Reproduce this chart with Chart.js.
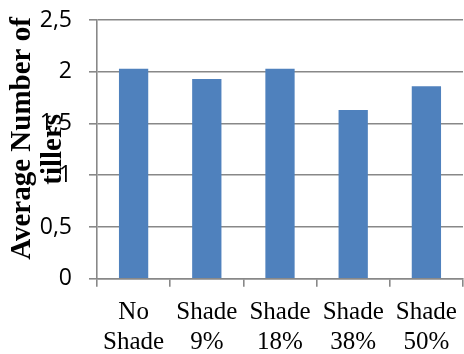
<!DOCTYPE html>
<html>
<head>
<meta charset="utf-8">
<script src="https://cdn.jsdelivr.net/npm/chart.js@4/dist/chart.umd.min.js"></script>
<style>
  html, body { margin: 0; padding: 0; background: #fff; }
  #wrap { width: 464px; height: 354px; }
</style>
</head>
<body>
<div id="wrap"><canvas id="c" width="464" height="354"></canvas></div>
<script>
// Shade treatments (two-line axis labels) and mean tiller counts
const categories = [['No', 'Shade'], ['Shade', '9%'], ['Shade', '18%'], ['Shade', '38%'], ['Shade', '50%']];
const tillers = [2.03, 1.93, 2.03, 1.63, 1.86];
// leading spaces lift the first title line a little towards the top of the axis
const yAxisTitle = ['   Average Number of', 'tillers'];
const yMin = 0, yMax = 2.5, yStep = 0.5;

const gridColor = '#888888';

new Chart(document.getElementById('c'), {
  type: 'bar',
  data: {
    labels: categories,
    datasets: [{
      data: tillers,
      backgroundColor: '#4F81BD',
      borderWidth: 0,
      categoryPercentage: 0.8,
      barPercentage: 0.5
    }]
  },
  options: {
    responsive: false,
    animation: false,
    devicePixelRatio: 1,
    layout: { padding: { top: 20, right: 1, bottom: 0, left: 0 } },
    plugins: { legend: { display: false }, tooltip: { enabled: false } },
    scales: {
      x: {
        afterFit: (scale) => { scale.height = 75.3; scale.paddingLeft = 0; scale.paddingRight = 0; },
        grid: { display: true, drawOnChartArea: false, drawTicks: true, tickLength: 8, color: gridColor, lineWidth: 1.6 },
        border: { display: true, color: gridColor, width: 1.6 },
        ticks: {
          color: '#000',
          padding: 11,
          maxRotation: 0,
          autoSkip: false,
          font: { family: '"Liberation Serif", "Times New Roman", serif', size: 25, lineHeight: 1.2 }
        }
      },
      y: {
        min: yMin,
        max: yMax,
        afterFit: (scale) => { scale.width = 97; scale.paddingTop = 0; scale.paddingBottom = 0; },
        grid: { color: gridColor, lineWidth: 1.6, drawTicks: true, tickLength: 8 },
        border: { display: true, color: gridColor, width: 1.6 },
        ticks: {
          stepSize: yStep,
          color: '#000',
          padding: 17,
          font: { family: '"Open Sans", sans-serif', size: 23 },
          callback: (v) => String(v).replace('.', ',')
        },
        title: {
          display: true,
          text: yAxisTitle,
          color: '#000',
          padding: { top: 7.5, bottom: 0 },
          font: { family: '"Liberation Serif", "Times New Roman", serif', size: 29, weight: 'bold', lineHeight: 1.06 }
        }
      }
    }
  }
});
</script>
</body>
</html>
